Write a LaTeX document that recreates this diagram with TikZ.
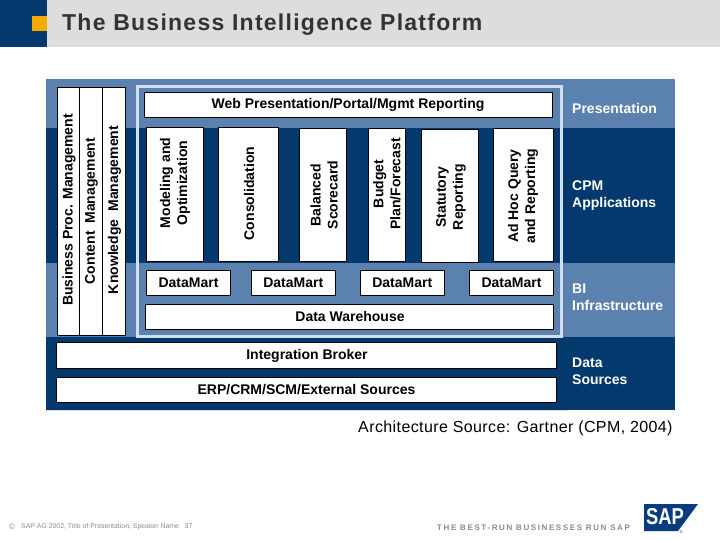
\documentclass[tikz,border=0pt]{standalone}
\usepackage{fontspec}
\setmainfont{Liberation Sans}
\newfontfamily\labf{Liberation Sans}
\newfontfamily\titf[LetterSpace=5.5]{Liberation Sans}
\newfontfamily\srcf[LetterSpace=2.5]{Liberation Sans}
\newfontfamily\tagf[LetterSpace=20]{Liberation Sans}
\definecolor{navy}{HTML}{03396C}
\definecolor{steel}{HTML}{5B82AE}
\definecolor{framec}{HTML}{D3DFEC}
\definecolor{headgray}{HTML}{DDDDDD}
\definecolor{orangec}{HTML}{F2A900}
\definecolor{titlec}{HTML}{333333}
\definecolor{footc}{HTML}{8A8A8A}
\definecolor{sapblue}{HTML}{0B3B7F}
\tikzset{
  fillbox/.style={fill=#1,draw=none,inner sep=0pt,outer sep=0pt},
  whitebox/.style={fill=white,draw=black,line width=0.8pt,inner sep=0pt,outer sep=0pt,align=center,
    font=\labf\bfseries\fontsize{14}{17}\selectfont,text=black},
  sidelabel/.style={anchor=west,align=left,inner sep=0pt,text=white,
    font=\labf\bfseries\fontsize{14}{17}\selectfont},
  vlabel/.style={rotate=90,align=center,inner sep=0pt,text=black,
    font=\labf\bfseries\fontsize{14}{17}\selectfont},
}
\newcommand{\bx}[6]{%
  \pgfmathsetmacro{\bw}{#4-#2}\pgfmathsetmacro{\bh}{#5-#3}%
  \pgfmathsetmacro{\cx}{(#2+#4)/2}\pgfmathsetmacro{\cy}{(#3+#5)/2}%
  \node[whitebox,minimum width=\bw pt,minimum height=\bh pt] (#1) at (\cx,\cy) {#6};}
\newcommand{\fl}[6]{%
  \pgfmathsetmacro{\bw}{#4-#2}\pgfmathsetmacro{\bh}{#5-#3}%
  \pgfmathsetmacro{\cx}{(#2+#4)/2}\pgfmathsetmacro{\cy}{(#3+#5)/2}%
  \node[fillbox=#6,minimum width=\bw pt,minimum height=\bh pt] (#1) at (\cx,\cy) {};}
\begin{document}
\begin{tikzpicture}[x=1pt,y=-1pt]
\useasboundingbox (0,0) rectangle (720,540);
\fl{headnavy}{0}{0}{47}{47}{navy}
\fl{headgray}{47}{0}{720}{47}{headgray}
\fl{headorange}{32}{16}{47}{31}{orangec}
\node[anchor=west,inner sep=0pt,text=titlec,font=\titf\bfseries\fontsize{23}{25}\selectfont] (title) at (62,25) {The Business Intelligence Platform};
% bands
\fl{b1}{46}{79}{675}{128}{steel}
\fl{b2}{46}{128}{675}{263}{navy}
\fl{b3}{46}{263}{675}{337}{steel}
\fl{b4}{46}{337}{675}{410}{navy}
\draw[framec,line width=0.8pt] (46,410.3) -- (568,410.3);
% frame
\draw[framec,line width=3pt] (137.5,87) rectangle (561.5,336.5);
% left boxes
\bx{lb1}{57.5}{87}{79.5}{335.5}{}
\bx{lb2}{79.5}{87}{102.5}{335.5}{}
\bx{lb3}{102.5}{87}{125.5}{335.5}{}
\node[vlabel] (l1) at (69,210) {Business Proc. Management};
\node[vlabel] (l2) at (91.5,211) {Content\ \ Management};
\node[vlabel] (l3) at (114.5,210) {Knowledge\ \ Management};
% top box
\bx{web}{144}{92.5}{552}{117.5}{}
\node[text=black,inner sep=0pt,font=\labf\bfseries\fontsize{14}{17}\selectfont] (webt) at (348,105) {Web Presentation/Portal/Mgmt Reporting};
% application boxes
\bx{a1}{146.5}{127}{203.5}{261}{}
\bx{a2}{218.5}{127}{278}{261}{}
\bx{a3}{299.5}{128.5}{346}{261}{}
\bx{a4}{368}{128}{405}{261}{}
\bx{a5}{421.5}{129}{478}{262}{}
\bx{a6}{493.5}{128.5}{553}{261}{}
\node[vlabel] (t1) at (175,183) {Modeling and\\Optimization};
\node[vlabel] (t2) at (249,193.5) {Consolidation};
\node[vlabel] (t3) at (324,195) {Balanced\\Scorecard};
\node[vlabel] (t4) at (387,184) {Budget\\Plan/Forecast};
\node[vlabel] (t5) at (451,197) {Statutory\\Reporting};
\node[vlabel] (t6) at (523,196) {Ad Hoc Query\\and Reporting};
% datamarts
\bx{m1}{146.5}{270}{230.5}{295}{DataMart}
\bx{m2}{251}{270}{335.5}{295}{DataMart}
\bx{m3}{360}{270}{444.5}{295}{DataMart}
\bx{m4}{469.5}{270}{553.5}{295}{DataMart}
\bx{dw}{145.5}{304.5}{553.5}{329.5}{}
\node[text=black,inner sep=0pt,font=\labf\bfseries\fontsize{14}{17}\selectfont] (dwt) at (350,316.5) {Data Warehouse};
\bx{ib}{56.5}{342.5}{556.5}{368}{}
\node[text=black,inner sep=0pt,font=\labf\bfseries\fontsize{14}{17}\selectfont] (ibt) at (307,356) {Integration Broker};
\bx{erp}{56.5}{377.5}{556.5}{402.5}{ERP/CRM/SCM/External Sources}
% side labels
\node[sidelabel] (s1) at (572,108.5) {Presentation};
\node[sidelabel] (s2) at (572,196) {CPM\\Applications};
\node[sidelabel] (s3) at (572,297.5) {BI\\Infrastructure};
\node[sidelabel] (s4) at (572,371.5) {Data\\Sources};
% source
\node[anchor=west,inner sep=0pt,text=black,font=\srcf\fontsize{16}{18}\selectfont] (src) at (358,428) {Architecture Source: Gartner (CPM, 2004)};
% footer
\node[anchor=west,inner sep=0pt,text=footc,font=\fontsize{8}{10}\selectfont] (copy) at (9,527) {©};
\node[anchor=west,inner sep=0pt,text=footc,font=\fontsize{6.9}{10}\selectfont] (foot) at (21,527) {SAP AG 2002, Title of Presentation, Speaker Name\ \ \ 37};
\node[anchor=west,inner sep=0pt,text=footc,font=\tagf\bfseries\fontsize{8}{10}\selectfont] (tag) at (437,527.5) {THE BEST-RUN BUSINESSES RUN SAP};
% logo
\fill[sapblue] (644,504) -- (698,504) -- (678,531) -- (644,531) -- cycle;
\node[inner sep=0pt,text=white,xscale=0.8,font=\bfseries\fontsize{23}{23}\selectfont] (sap) at (665,517) {SAP};
\node[inner sep=0pt,text=sapblue,font=\fontsize{4}{4}\selectfont] (reg) at (681,532) {®};
\end{tikzpicture}
\end{document}
